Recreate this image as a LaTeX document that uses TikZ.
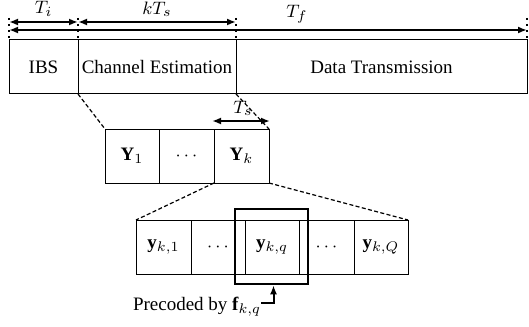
\documentclass[tikz,border=0pt]{standalone}
\usepackage{fontspec}
\setmainfont{Liberation Serif}
\newfontfamily\tms{Liberation Serif}
\usetikzlibrary{arrows.meta}
\begin{document}
\begin{tikzpicture}[x=0.5pt,y=-0.5pt,
  box/.style={draw, line width=0.5pt, inner sep=0pt, outer sep=0pt, anchor=north west,
    minimum height=27pt, font=\tms\fontsize{9.5}{11}\selectfont},
  dur/.style={line width=1pt, {Latex[length=4.5pt,width=3.5pt]}-{Latex[length=4.5pt,width=3.5pt]}},
  mark line/.style={line width=1pt, dotted},
  zoomline/.style={line width=0.6pt, dash pattern=on 2pt off 1.2pt},
  lbl/.style={font=\tms\fontsize{9.5}{11}\selectfont, inner sep=0pt}]
\useasboundingbox (0,0) rectangle (529,326);
% top row
\node[box, minimum width=34.5pt] (ibs) at (9,40) {IBS};
\node[box, minimum width=79pt] (ce) at (78,40) {Channel Estimation};
\node[box, minimum width=145.5pt] (dt) at (236,40) {Data Transmission};
% duration markers
\coordinate (m0) at (9,18);
\coordinate (m1) at (78,18);
\coordinate (m2) at (236,18);
\coordinate (m3) at (527,18);
\draw[mark line] (m0) -- (ibs.north west);
\draw[mark line] (m1) -- (ce.north west);
\draw[mark line] (m2) -- (dt.north west);
\draw[mark line] (m3) -- (dt.north east);
\coordinate (a0) at (9,22);
\coordinate (a1) at (78,22);
\coordinate (a2) at (236,22);
\coordinate (b0) at (9,30);
\coordinate (b1) at (527,30);
\draw[dur] (a0) -- node[lbl, above=2pt] (ti) {$T_i$} (a1);
\draw[dur] (a1) -- node[lbl, above=2pt] (kts) {$kT_s$} (a2);
\draw[dur] (b0) -- (b1);
\node[lbl] (tf) at (297,14) {$T_f$};
% middle row
\node[box, minimum width=27pt] (y1) at (105,129) {$\mathbf{Y}_1$};
\node[box, minimum width=27.5pt] (yd) at (159,129) {$\cdots$};
\node[box, minimum width=27.5pt] (yk) at (214,129) {$\mathbf{Y}_k$};
\draw[zoomline] (ce.south west) -- (y1.north west);
\draw[zoomline] (ce.south east) -- (yk.north east);
\coordinate (s0) at (212,121);
\coordinate (s1) at (270,121);
\draw[dur] (s0) -- (s1);
\node[lbl] (ts) at (243,108) {$T_s$};
% bottom row
\node[box, minimum width=27.5pt] (q1) at (136,220) {$\mathbf{y}_{k,1}$};
\node[box, minimum width=27pt] (qd1) at (191,220) {$\cdots$};
\node[box, minimum width=27pt] (qq) at (245,220) {$\mathbf{y}_{k,q}$};
\node[box, minimum width=27.5pt] (qd2) at (299,220) {$\cdots$};
\node[box, minimum width=27pt] (qQ) at (354,220) {$\mathbf{y}_{k,Q}$};
\draw[zoomline] (yk.south west) -- (q1.north west);
\draw[zoomline] (yk.south east) -- (qQ.north east);
% selected slot
\node[draw, line width=1.3pt, minimum width=36.5pt, minimum height=37.5pt, inner sep=0pt] (sel) at (271.5,246.5) {};
\node[lbl, anchor=base] (pre) at (197,310) {Precoded by $\mathbf{f}_{k,q}$};
\coordinate (pc) at (261,303);
\draw[line width=1pt, -{Latex[length=4.5pt,width=3.5pt]}] (pc) -| ([xshift=1pt]sel.south);
\end{tikzpicture}
\end{document}
